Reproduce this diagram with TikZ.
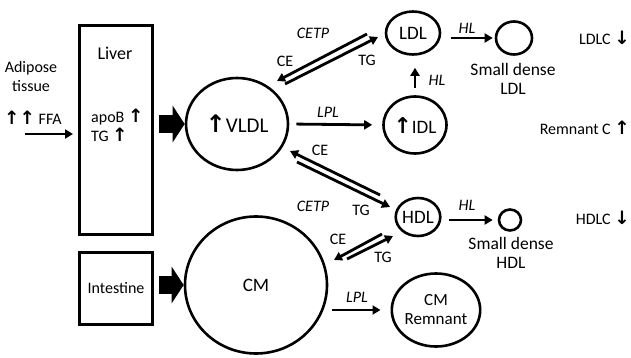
\documentclass[tikz,border=0pt]{standalone}
\usepackage{fontspec}
\setmainfont{Carlito}
\newfontfamily\arrfont{DejaVu Sans}
\usetikzlibrary{shapes.geometric,arrows.meta}
\newcommand\myup{{\arrfont\bfseries\scalebox{1.15}{↑}}}
\newcommand\mydown{{\arrfont\bfseries\scalebox{1.15}{↓}}}
\begin{document}
\begin{tikzpicture}[x=1pt,y=-1pt,
  every node/.style={inner sep=0pt, font=\fontsize{16}{18}\selectfont},
  blob/.style={draw, ellipse, line width=2.6pt, font=\fontsize{19}{21}\selectfont},
  organ/.style={draw, rectangle, line width=3pt},
  arr/.style={line width=2.8pt, -{Triangle[length=8pt,width=9pt]}},
  big/.style={line width=18pt, -{Triangle[length=12pt,width=36pt]}},
  lab/.style={font=\fontsize{16}{18}\selectfont},
  enz/.style={font=\fontsize{16}{18}\itshape},
  desc/.style={align=center, font=\fontsize{17.5}{19}\selectfont}]
\useasboundingbox (0,0) rectangle (631,358);

% organs
\node[organ, minimum width=73pt, minimum height=209pt] (liver) at (116,130) {};
\node[organ, minimum width=73pt, minimum height=72pt] (intestine) at (116,288.5) {};
\node[font=\fontsize{16}{19}\selectfont] (intlab) at (116,288) {Intestine};
\node[font=\fontsize{18}{20}\selectfont] (liverlab) at (115,53) {Liver};
\node[anchor=west] (apob) at (91,117) {apoB \myup};
\node[anchor=west] (tgl) at (91,135) {TG \myup};

% adipose
\node[align=center, font=\fontsize{16}{19}\selectfont] (adipose) at (31,77) {Adipose\\tissue};
\node (ffa) at (33,118) {\myup\myup\ FFA};
\coordinate (ffastart) at (25,134);
\draw[arr] (ffastart) -- (ffastart -| liver.west) [shorten >=5pt];

% lipoproteins
\node[blob, minimum width=102pt, minimum height=92pt, font=\fontsize{21}{23}\selectfont] (vldl) at (237,124) {\myup VLDL};
\node[blob, minimum width=142pt, minimum height=137pt] (cm) at (256,285) {CM};
\node[blob, minimum width=54pt, minimum height=43pt] (ldl) at (413,33) {LDL};
\node[blob, minimum width=63pt, minimum height=57pt] (idl) at (415,125) {\myup IDL};
\node[blob, minimum width=40pt, minimum height=38pt] (hdl) at (418,217) {HDL};
\node[blob, minimum width=36pt, minimum height=33pt] (sldl) at (514,38) {};
\node[blob, minimum width=22pt, minimum height=21pt] (shdl) at (510,220) {};
\node[blob, minimum width=75pt, minimum height=73pt, align=center,
      font=\fontsize{17}{19}\selectfont] (cmr) at (436,310) {CM\\Remnant};

\node[desc] (sldllab) at (513,79) {Small dense\\LDL};
\node[desc] (shdllab) at (511,253) {Small dense\\HDL};

% big arrows
\draw[big, shorten <=5pt] (liver.east |- vldl.west) -- (vldl.west);
\draw[big, shorten <=5pt] (intestine.east |- cm.west) -- (cm.west);

% simple arrows
\draw[arr, shorten <=7pt, shorten >=10pt] (vldl.east) -- (idl.west);
\draw[arr, shorten <=10pt, shorten >=2pt] (ldl.east |- sldl.west) -- (sldl.west);
\draw[arr, shorten <=7pt, shorten >=5pt] (hdl.east |- shdl.west) -- (shdl.west);
\draw[arr, shorten <=7pt, shorten >=12pt] (idl.north) -- (idl.north |- ldl.south);
\draw[arr, shorten <=4pt, shorten >=10pt] (cm.east |- cmr.west) -- (cmr.west);

\node[enz] (hl1) at (467,28) {HL};
\node[enz] (hl2) at (437,80) {HL};
\node[enz] (hl3) at (467,205) {HL};
\node[enz] (lpl1) at (328,112) {LPL};
\node[enz] (lpl2) at (357,297) {LPL};
\node[enz] (cetp1) at (313,33) {CETP};
\node[enz] (cetp2) at (313,206) {CETP};

% exchange arrows
\coordinate (a1) at (367,34); \coordinate (a2) at (277,81);
\coordinate (b1) at (285,84); \coordinate (b2) at (378,37);
\draw[arr] (a1) -- (a2);
\draw[arr] (b1) -- (b2);
\node[lab] (ce1) at (285,61) {CE};
\node[lab] (tg1) at (367,60) {TG};

\coordinate (c1) at (380,195); \coordinate (c2) at (290,151);
\coordinate (d1) at (297,162); \coordinate (d2) at (390,207);
\draw[arr] (c1) -- (c2);
\draw[arr] (d1) -- (d2);
\node[lab] (ce2) at (320,150) {CE};
\node[lab] (tg2) at (361,210) {TG};

\coordinate (e1) at (382,234); \coordinate (e2) at (334,260);
\coordinate (f1) at (347,259); \coordinate (f2) at (393,236);
\draw[arr] (e1) -- (e2);
\draw[arr] (f1) -- (f2);
\node[lab] (ce3) at (338,239) {CE};
\node[lab] (tg3) at (383,257) {TG};

% outcomes
\node[anchor=east] (ldlc) at (630,38) {LDLC \mydown};
\node[anchor=east] (remc) at (630,128) {Remnant C \myup};
\node[anchor=east] (hdlc) at (630,218) {HDLC \mydown};
\end{tikzpicture}
\end{document}
